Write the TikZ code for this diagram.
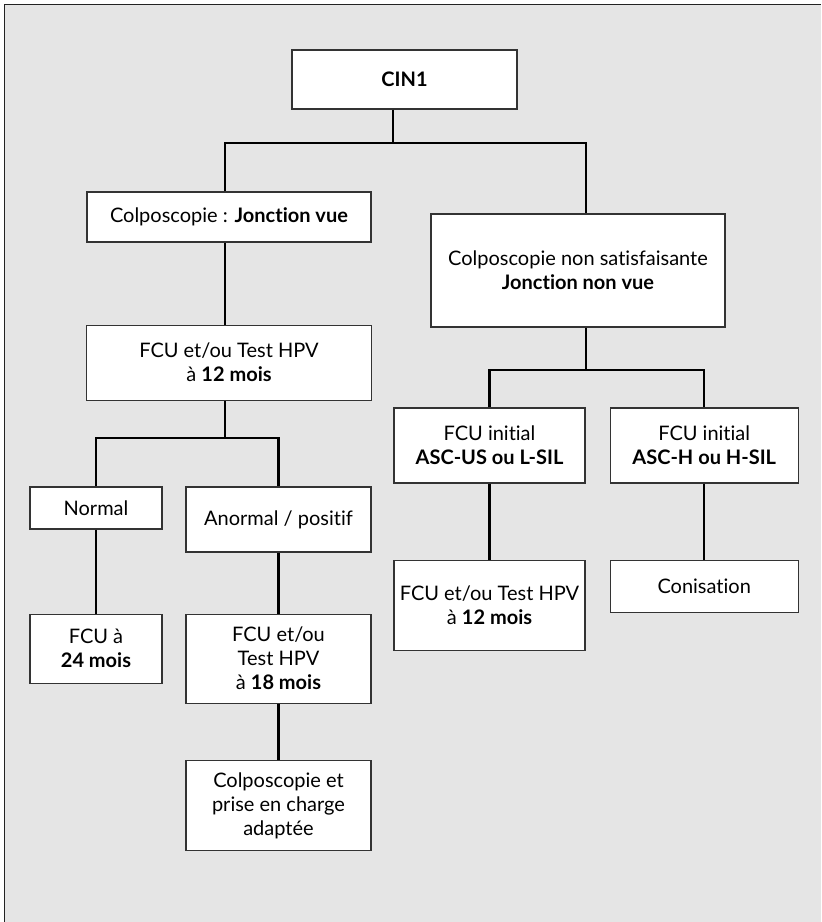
\documentclass[tikz,border=0pt]{standalone}
\usepackage{fontspec}
\setmainfont{Lato}[Ligatures=NoCommon]
\usetikzlibrary{positioning}
\definecolor{cinPanelGrey}{RGB}{229, 229, 229}
\definecolor{cinFrameDark}{RGB}{34, 34, 34}
\definecolor{cinBoxLine}{RGB}{51, 51, 51}

\begin{document}
\begin{tikzpicture}[
  x=0.5pt, y=-0.5pt,
  flownode/.style={draw=cinBoxLine, fill=white, line width=0.6pt, align=center,
                   inner sep=2pt, font=\fontsize{10}{12}\selectfont},
  link/.style={line width=1.15pt}
]
\useasboundingbox (0,0) rectangle (821,922);
\fill[cinPanelGrey] (4,4) rectangle (821,922);
\draw[cinFrameDark, line width=0.7pt] (4.5,922) -- (4.5,4.5) -- (821,4.5);

\node[flownode, minimum width=112.5pt, minimum height=29.5pt] (cin) at (404.5,79.5) {\textbf{CIN1}};
\node[flownode, minimum width=142pt, minimum height=25pt] (jvue) at (229,217) {Colposcopie~: \textbf{Jonction vue}};
\node[flownode, minimum width=147pt, minimum height=56.5pt] (jnonvue) at (578,270.5) {Colposcopie non satisfaisante\\\textbf{Jonction non vue}};
\node[flownode, minimum width=142.5pt, minimum height=37.5pt, below=41pt of jvue] (fcuA) {FCU et/ou Test HPV\\à \textbf{12 mois}};
\node[flownode, minimum width=66pt, minimum height=21pt] (normal) at (96,508) {Normal};
\node[flownode, minimum width=92.5pt, minimum height=32.5pt] (anormal) at (278.5,519.5) {Anormal / positif};
\node[flownode, minimum width=66pt, minimum height=34.5pt, below=42pt of normal] (fcu24) {FCU à\\\textbf{24 mois}};
\node[flownode, minimum width=92.5pt, minimum height=44.5pt, below=30.5pt of anormal] (fcu18) {FCU et/ou\\Test HPV\\à \textbf{18 mois}};
\node[flownode, minimum width=92.5pt, minimum height=45pt, below=28pt of fcu18] (colpo) {Colposcopie et\\prise en charge\\adaptée};
\node[flownode, minimum width=95.5pt, minimum height=37.5pt] (ascus) at (489.5,445.5) {FCU initial\\\textbf{ASC-US ou L-SIL}};
\node[flownode, minimum width=94pt, minimum height=37.5pt, right=12pt of ascus] (asch) {FCU initial\\\textbf{ASC-H ou H-SIL}};
\node[flownode, minimum width=95.5pt, minimum height=45pt, below=38pt of ascus] (fcuB) {FCU et/ou Test HPV\\à \textbf{12 mois}};
\node[flownode, minimum width=94pt, minimum height=26pt, below=38pt of asch] (conis) {Conisation};

\coordinate (split1) at (393,143);
\coordinate (split2) at (225,438);
\coordinate (split3) at (586,370);
% first split
\draw[link] (cin.south -| split1) -- (split1);
\draw[link] (jvue.north -| split2) |- (split1) -| (jnonvue.north -| split3);
% junction seen
\draw[link] (jvue.south -| split2) -- (fcuA.north -| split2);
\draw[link] (fcuA.south -| split2) -- (split2);
\draw[link] (normal.north) |- (split2) -| (anormal.north);
\draw[link] (normal.south) -- (fcu24.north);
\draw[link] (anormal.south) -- (fcu18.north);
\draw[link] (fcu18.south) -- (colpo.north);
% junction not seen
\draw[link] (jnonvue.south -| split3) -- (split3);
\draw[link] (ascus.north) |- (split3) -| (asch.north);
\draw[link] (ascus.south) -- (fcuB.north);
\draw[link] (asch.south) -- (conis.north);
\end{tikzpicture}
\end{document}
